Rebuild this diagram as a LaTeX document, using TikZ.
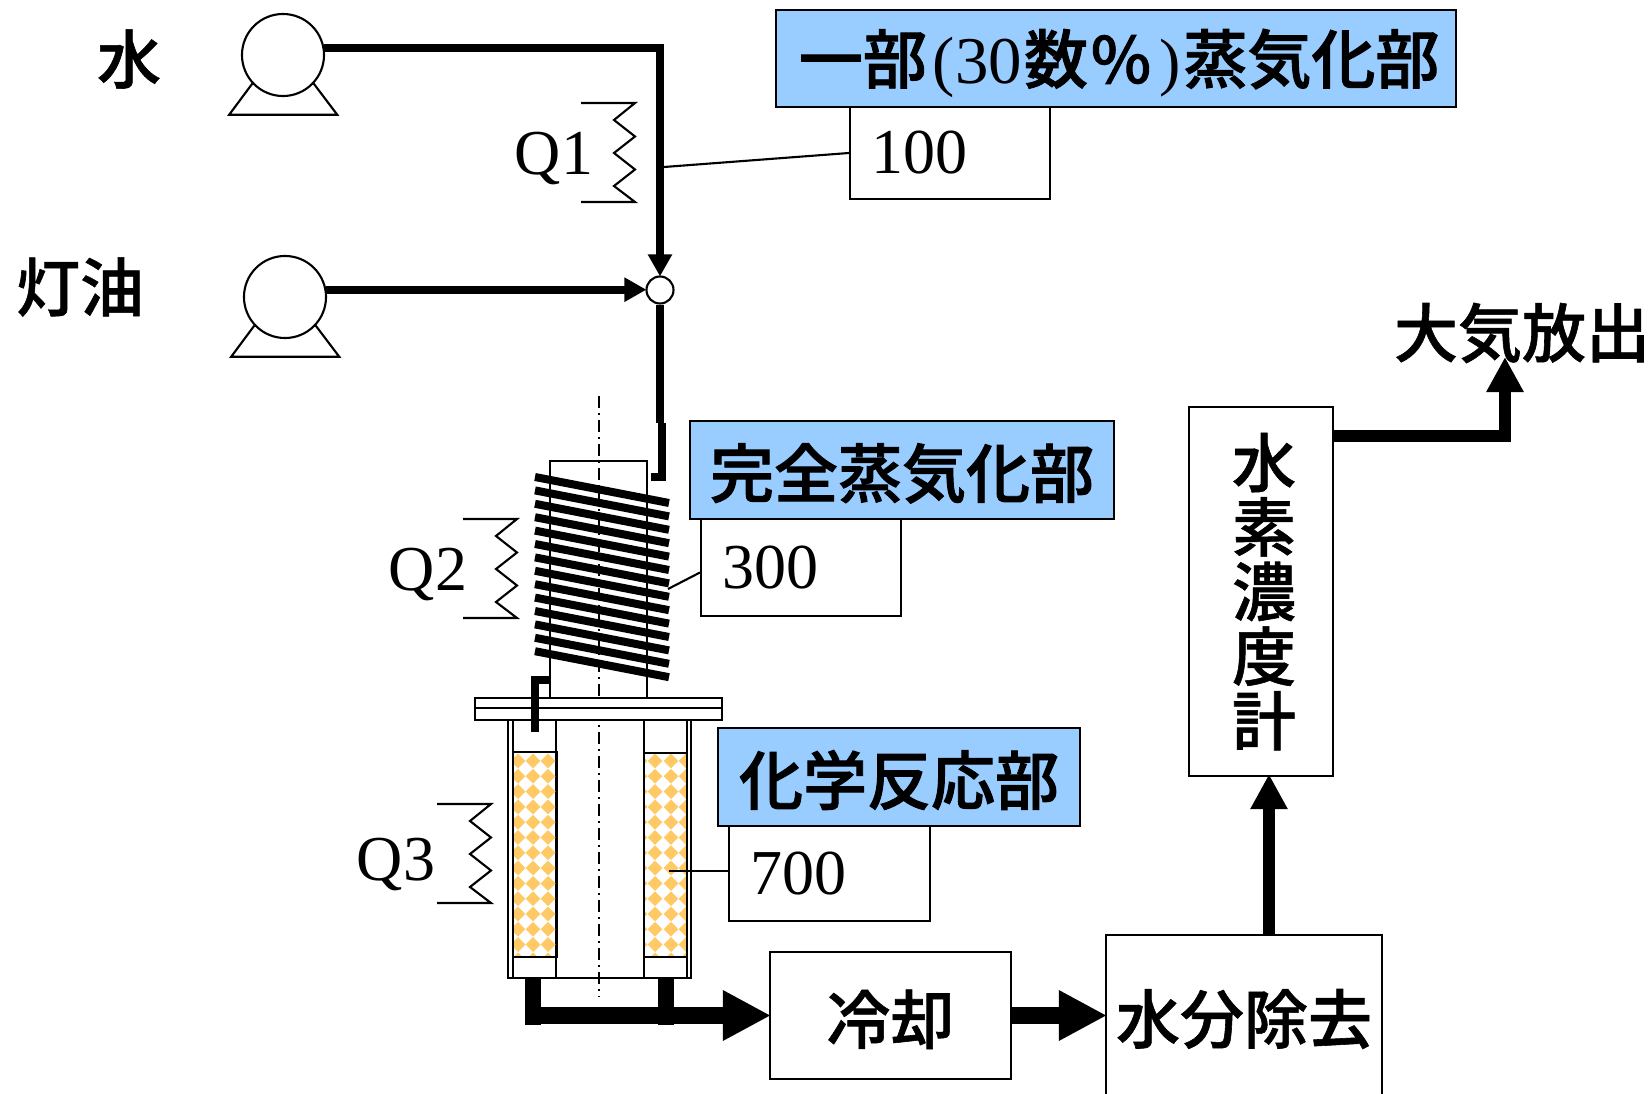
\documentclass[tikz,border=0pt]{standalone}
\usepackage{fontspec}
\setmainfont{Liberation Serif}
\newfontfamily\cjk[FakeBold=.9]{Noto Sans CJK JP Medium}
\newfontfamily\cjkhead[FakeBold=1.4]{Noto Sans CJK JP Medium}
\usetikzlibrary{arrows.meta,positioning,calc}
\definecolor{Sky}{HTML}{99CCFF}
\definecolor{Amber}{HTML}{FFC966}
\tikzset{
  latin/.style={font=\fontsize{18.2}{18.4}\selectfont,inner sep=0pt},
  kana/.style={font=\cjk\fontsize{18.2}{18.35}\selectfont,inner sep=0pt},
  box/.style={draw,line width=.55pt,fill=white,inner sep=0pt},
  stage/.style={box,inner sep=0pt,font=\cjkhead\fontsize{18.2}{18.35}\selectfont,fill=Sky,text height=17.8pt,text depth=2.2pt},
  valuebox/.style={box,latin,align=left,inner xsep=.22cm,text width=#1},
  pump/.style={circle,draw,line width=.6pt,minimum size=.82cm,inner sep=0pt},
  wall/.style={line width=.6pt},
  heat/.style={line width=.6pt},
  pipe/.style={line width=.08cm},
  duct/.style={line width=.16cm},
  vent/.style={line width=.12cm},
  coilbar/.style={line width=.08cm},
  tipsmall/.style={-{Triangle[length=.22cm,width=.23cm]},shorten >=-.01cm},
  tipmid/.style={-{Triangle[length=.35cm,width=.35cm]},shorten >=-.03cm},
  tipbig/.style={-{Triangle[length=.48cm,width=.47cm]},shorten >=-.02cm}
}
\begin{document}
\begin{tikzpicture}[x=.01cm,y=-.01cm]
\useasboundingbox (0,0) rectangle (1650,1094);
\node[pump] (pumpwater) at (283,55) {};
\node[pump] (pumpoil) at (285,297) {};
\foreach \p in {pumpwater,pumpoil}
  \draw[wall] (\p.223) -- ++(-23,31) -- ++(108,0) -- (\p.317);
\node[kana] (water) at (129,59) {水};
\node[kana] (oil) at (80,287) {灯油};
\node[circle,draw,line width=.6pt,fill=white,minimum size=.27cm,inner sep=0pt] (mix) at (660,290) {};

\node[box,minimum width=2cm,valuebox=1.56cm,minimum height=.92cm,anchor=north west] (val100) at (849,106) {100};
\node[stage,text height=16.2pt,minimum width=6.8cm,minimum height=.97cm,anchor=north west] (stage1) at (775,9) {\kern.06cm一部\kern.06cm{\fontsize{19}{19}\selectfont\normalfont(30}\kern.02cm数\kern.03cm\%\kern.08cm{\normalfont)}\kern.03cm蒸気化部};
\node[box,minimum width=2cm,valuebox=1.56cm,minimum height=.97cm,anchor=north west] (val300) at (700,518) {300};
\node[stage,minimum width=4.24cm,minimum height=.98cm,anchor=north west] (stage2) at (689,420) {完全蒸気化部};
\node[box,minimum width=2.01cm,valuebox=1.57cm,minimum height=.95cm,anchor=north west] (val700) at (728,825) {700};
\node[stage,minimum width=3.62cm,minimum height=.98cm,anchor=north west] (stage3) at (717,727) {化学反応部};

\node[box,kana,text height=18.2pt,text depth=2.2pt,minimum width=2.41cm,minimum height=1.27cm,anchor=north west] (cooler) at (769,951) {冷却};
\node[box,kana,minimum width=2.76cm,minimum height=1.68cm,anchor=north west] (separator) at (1105,934) {水分除去};
\node[box,kana,text width=.70cm,align=right,minimum width=1.44cm,minimum height=3.69cm,anchor=north west] (meter) at (1188,406) {水\\素\\濃\\度\\計};
\node[kana] (release) at (1522,333) {大気放出};

\node[latin,anchor=base] (q1) at (554,175) {Q1};
\node[latin,anchor=base] (q2) at (428,591) {Q2};
\node[latin,anchor=base] (q3) at (396,880) {Q3};
\foreach \x/\y in {581/103,463/519,437/804}
  \draw[heat] (\x,\y) -- ++(54,0) -- ++(-21,17) -- ++(21,16.5) -- ++(-21,16.5) -- ++(21,16.5) -- ++(-21,16.5) -- ++(21,16) -- ++(-54,0);

\coordinate (feedend) at (660,423);
\coordinate (feedtop) at (662,423);
\coordinate (coiltop) at (651,477);
\draw[pipe,tipsmall] (pumpwater.10) -| (mix);
\draw[pipe,tipsmall] (pumpoil.10) -- (pumpoil.10 -| mix.west);
\draw[pipe] (mix) -- (feedend);
\draw[pipe] (feedtop) |- (coiltop);

% reactor
\draw[wall] (550,698) -- (550,461) -- (647,461) -- (647,698);
\draw[wall,dash pattern=on .12cm off .05cm on .02cm off .05cm] (599,396) -- (599,997);
\foreach \i in {0,...,13}
  \draw[coilbar] (535,{477+13.4*\i}) -- (669,{503+13.4*\i});
\draw[wall,fill=white] (475,698) rectangle (722,720);
\draw[wall] (475,708) -- (722,708);
\draw[coilbar] (550,680) -| (535,732);
\draw[wall] (508,720) -- (508,978) -- (691,978) -- (691,720);
\draw[wall] (513,720) -- (513,978) (687,720) -- (687,978);
\draw[wall] (556,720) -- (556,978) (644,720) -- (644,979);
\begin{scope}
  \clip (513,752) rectangle (557,957);
  \foreach \i in {0,...,13} \foreach \x in {503,518,533,548,563}
    \fill[Amber] (\x-7.4,{761+15.3*\i}) -- (\x,{753.6+15.3*\i}) -- (\x+7.4,{761+15.3*\i}) -- (\x,{768.4+15.3*\i}) -- cycle;
\end{scope}
\begin{scope}
  \clip (644,753) rectangle (687,957);
  \foreach \i in {0,...,13} \foreach \x in {640,655,671,686}
    \fill[Amber] (\x-7.4,{761+15.3*\i}) -- (\x,{753.6+15.3*\i}) -- (\x+7.4,{761+15.3*\i}) -- (\x,{768.4+15.3*\i}) -- cycle;
\end{scope}
\draw[wall] (513,752) rectangle (557,957);
\draw[wall] (644,753) rectangle (687,957);

\coordinate (outleft) at (533,978);
\coordinate (outright) at (666,978);
\draw[duct] (outleft) -- ++(0,47);
\draw[duct] (outright) -- ++(0,47);
\draw[duct,tipbig] (outleft |- cooler.west) -- (cooler.west);
\draw[duct,tipbig] (cooler.east) -- (cooler.east -| separator.west);
\coordinate (sepout) at (1269,935);
\coordinate (meterout) at (1333,436);
\coordinate (ventend) at (1505,360);
\draw[vent,tipmid] (sepout) -- (sepout |- meter.south);
\draw[vent,tipmid] (meterout) -| (ventend);

\coordinate (lead1) at (664,167);
\coordinate (lead2) at (668,589);
\coordinate (lead3) at (669,871);
\draw[wall] (lead1) -- (val100.west);
\draw[wall] (lead2) -- ([yshift=-.05cm]val300.west);
\draw[wall] (lead3) -- (lead3 -| val700.west);
\end{tikzpicture}
\end{document}
